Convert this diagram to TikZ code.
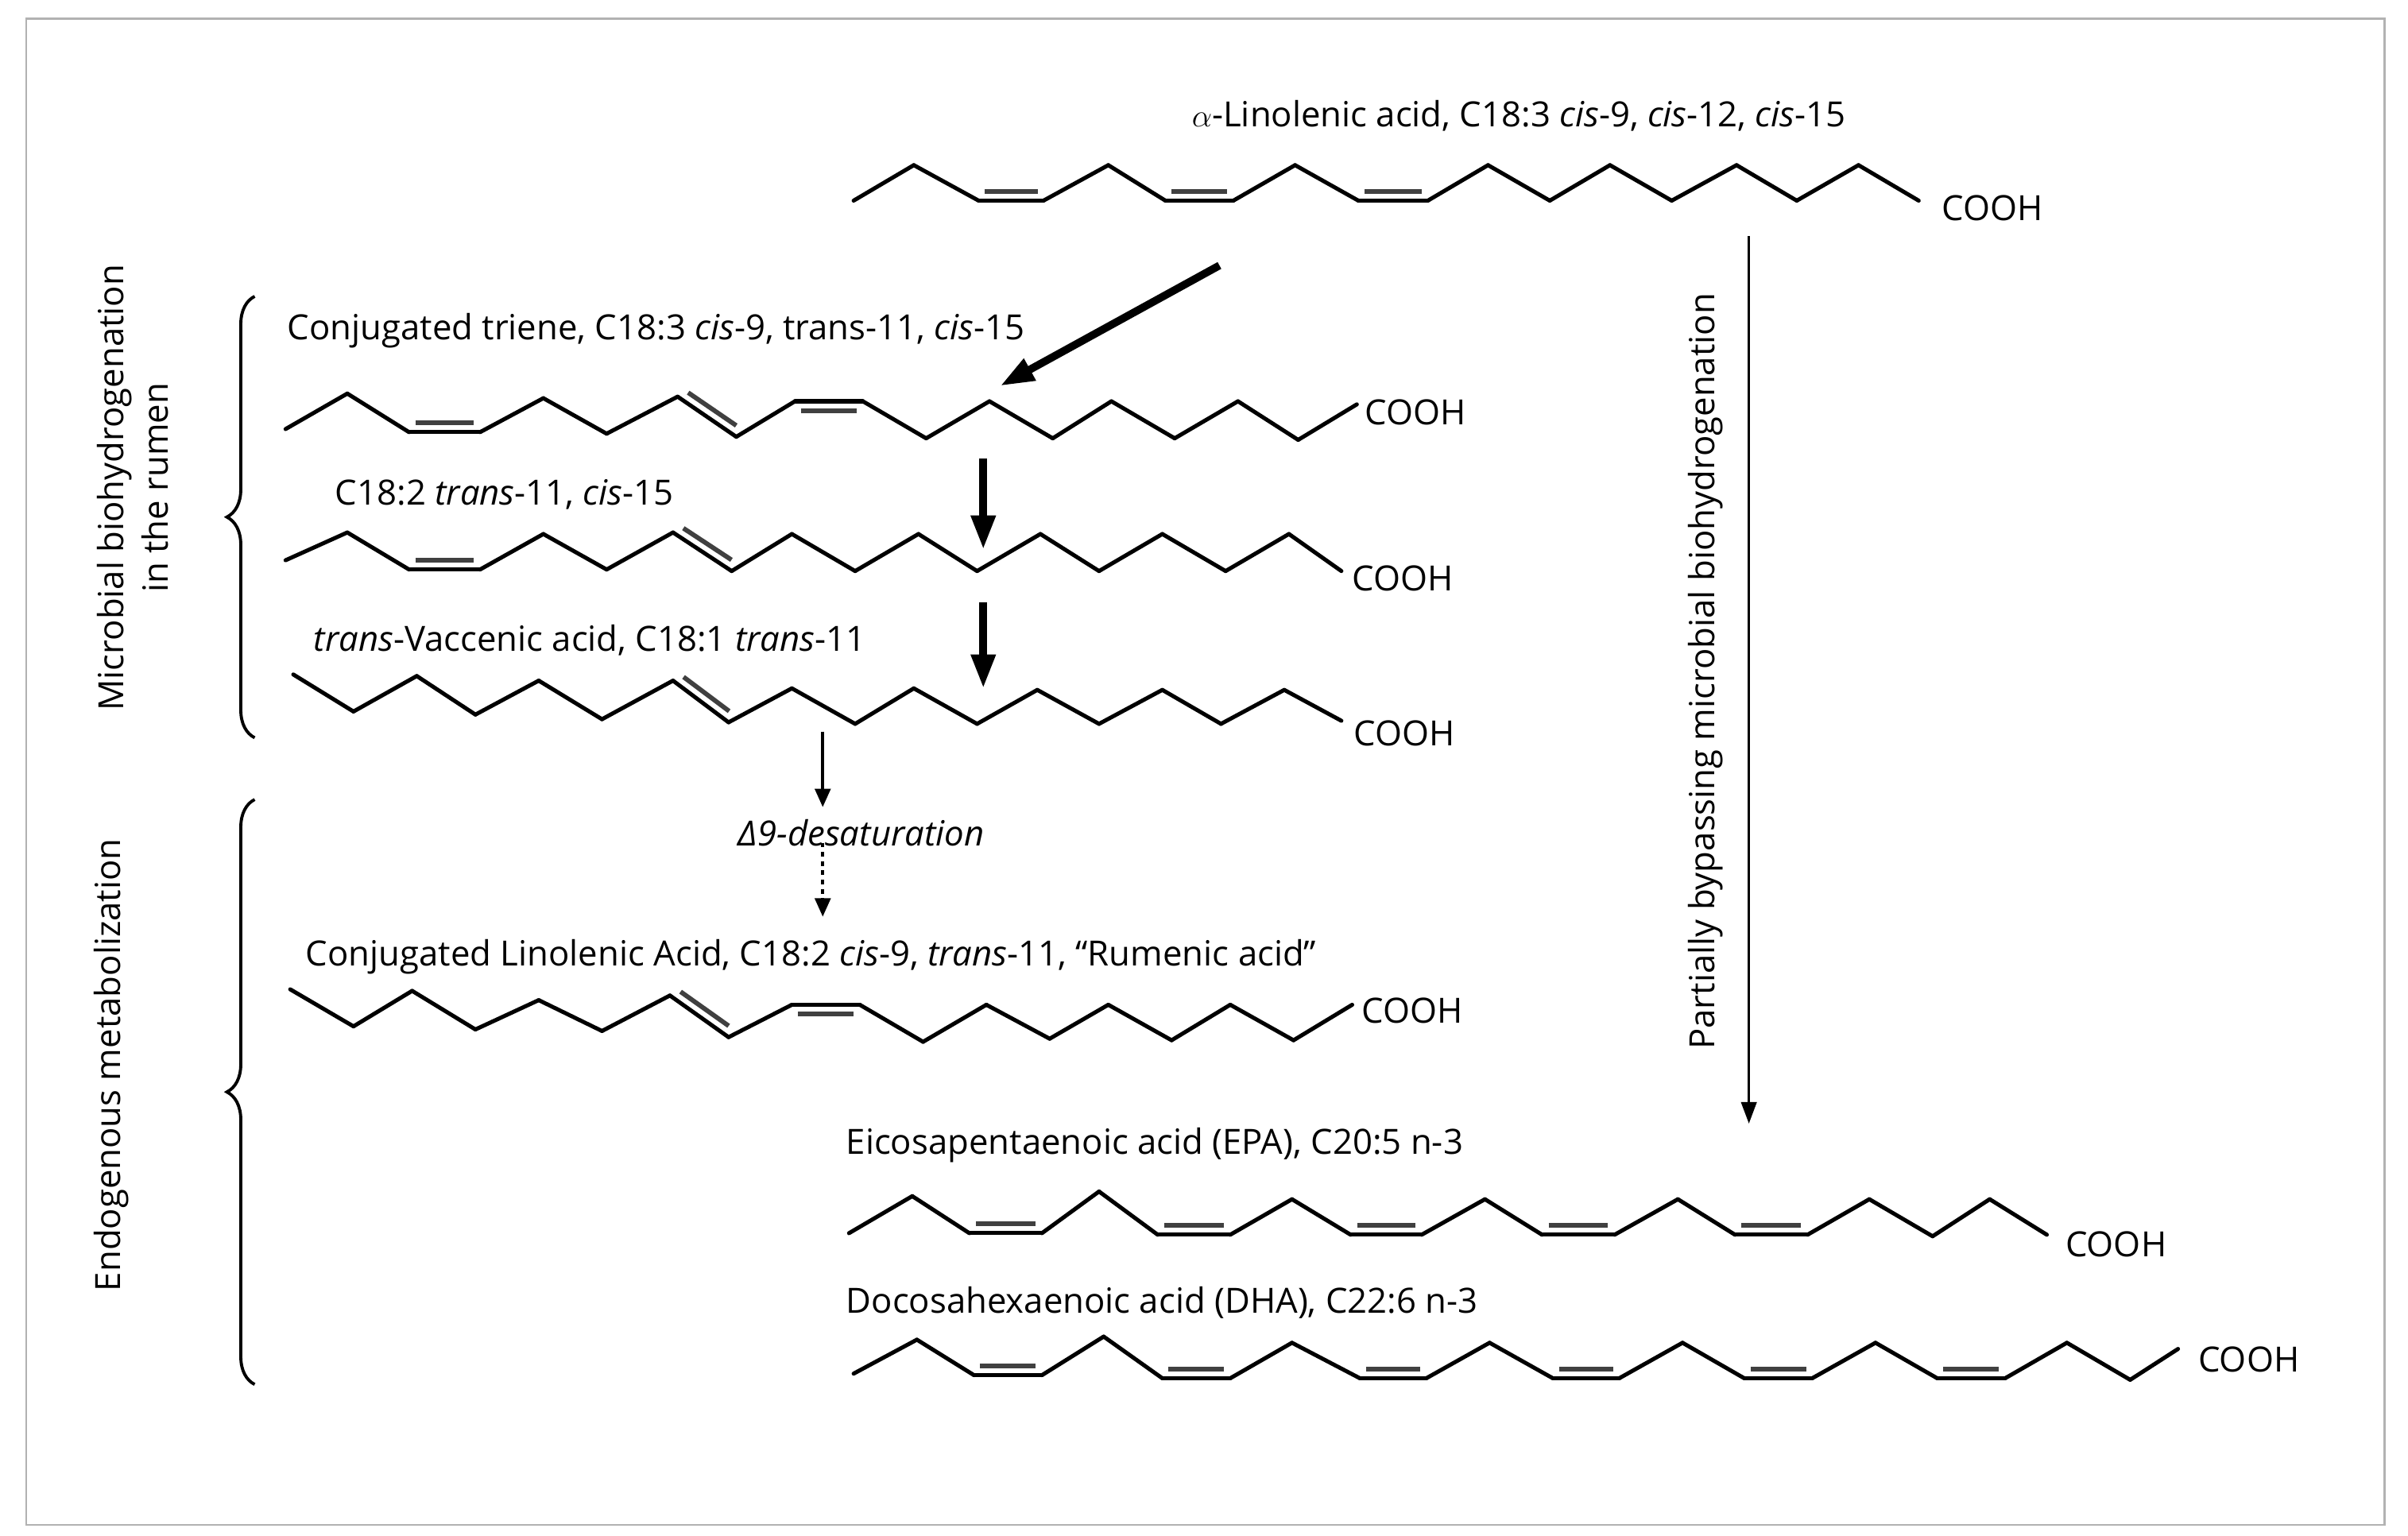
\documentclass[tikz,border=0pt]{standalone}
\usepackage{fontspec}
\setmainfont{Open Sans}
\usetikzlibrary{calc,arrows.meta,decorations.pathreplacing}
\begin{document}
\begin{tikzpicture}[x=1pt,y=-1pt,
  chainline/.style={line width=2.6pt,line cap=round,line join=round},
  dbl/.style={line width=3pt,black!75},
  lbl/.style={anchor=base west,inner sep=0pt,font=\fontsize{22.5}{24}\selectfont},
  big/.style={line width=5pt,-{Triangle[length=22pt,width=15pt]}},
  small/.style={line width=2.2pt,-{Triangle[length=12pt,width=10pt]}},
  brc/.style={decorate,decoration={brace,amplitude=18pt},line width=2pt}]
\useasboundingbox (0,0) rectangle (1560,995);
\draw[gray!60,line width=1.5pt] (17,12) rectangle (1545,988);
\newcommand\mychain[2]{%
  \foreach \px/\py [count=\i] in {#2} {\coordinate (#1\i) at (\px,\py);}
  \foreach \px/\py [count=\i] in {#2} {\ifnum\i>1 \pgfmathtruncatemacro\j{\i-1}\draw[chainline] (#1\j) -- (#1\i);\fi}}
\newcommand\dbond[4]{\draw[dbl] ($(#1#2)!.09!(#1#3)!6pt!#4:(#1#3)$) -- ($(#1#3)!.09!(#1#2)!6pt!-#4:(#1#2)$);}
% chains
\mychain{A}{553/130,592/107,634/130,676/130,718/107,755/130,799/130,839/107,880/130,925/130,964/107,1004/130,1043/107,1083/130,1125/107,1164/130,1204/107,1243/130}
\dbond{A}{3}{4}{90}\dbond{A}{6}{7}{90}\dbond{A}{9}{10}{90}
\mychain{B}{185/278,225/255,265/280,311/280,352/258,393/281,439/257,477/283,515/260,559/260,600/284,641/260,682/284,720/260,761/284,802/260,841/285,879/262}
\dbond{B}{3}{4}{90}\dbond{B}{7}{8}{90}\dbond{B}{9}{10}{-90}
\mychain{C}{185/363,225/345,265/369,311/369,352/346,393/369,436/345,474/370,513/346,554/370,595/346,633/370,674/346,712/370,753/346,794/370,835/346,869/370}
\dbond{C}{3}{4}{90}\dbond{C}{7}{8}{90}
\mychain{D}{190/437,229/461,270/438,308/463,349/441,390/466,436/441,472/468,513/446,554/469,592/446,633/469,672/447,712/469,753/447,791/469,832/447,869/467}
\dbond{D}{7}{8}{90}
\mychain{E}{188/641,229/665,267/642,308/667,349/648,390/668,434/645,472/672,513/651,557/651,598/675,639/651,680/673,718/651,759/674,797/651,838/674,876/651}
\dbond{E}{7}{8}{90}\dbond{E}{9}{10}{-90}
\mychain{F}{550/799,591/775,628/799,675/799,712/772,750/800,797/800,837/777,875/800,921/800,962/777,999/800,1046/800,1087/777,1124/800,1171/800,1211/777,1252/801,1289/777,1326/800}
\dbond{F}{3}{4}{90}\dbond{F}{6}{7}{90}\dbond{F}{9}{10}{90}\dbond{F}{12}{13}{90}\dbond{F}{15}{16}{90}
\mychain{G}{553/890,594/868,631/891,675/891,715/866,753/893,797/893,837/870,881/893,924/893,965/870,1006/893,1049/893,1090/870,1130/893,1174/893,1215/870,1255/893,1299/893,1339/870,1380/894,1411/874}
\dbond{G}{3}{4}{90}\dbond{G}{6}{7}{90}\dbond{G}{9}{10}{90}\dbond{G}{12}{13}{90}\dbond{G}{15}{16}{90}\dbond{G}{18}{19}{90}
% labels
\node[lbl] (tA) at (772,82) {$\alpha$-Linolenic acid, C18:3 \textit{cis}-9, \textit{cis}-12, \textit{cis}-15};
\node[lbl] (tB) at (186,220) {Conjugated triene, C18:3 \textit{cis}-9, trans-11, \textit{cis}-15};
\node[lbl] (tC) at (217,327) {C18:2 \textit{trans}-11, \textit{cis}-15};
\node[lbl] (tD) at (203,422) {\textit{trans}-Vaccenic acid, C18:1 \textit{trans}-11};
\node[lbl] (tDelta) at (478,548) {\textit{Δ9-desaturation}};
\node[lbl] (tE) at (198,626) {Conjugated Linolenic Acid, C18:2 \textit{cis}-9, \textit{trans}-11, “Rumenic acid”};
\node[lbl] (tF) at (548,748) {Eicosapentaenoic acid (EPA), C20:5 n-3};
\node[lbl] (tG) at (548,851) {Docosahexaenoic acid (DHA), C22:6 n-3};
\node[lbl] (cA) at (1258,143) {COOH};
\node[lbl] (cB) at (884,275) {COOH};
\node[lbl] (cC) at (876,383) {COOH};
\node[lbl] (cD) at (877,483) {COOH};
\node[lbl] (cE) at (882,663) {COOH};
\node[lbl] (cF) at (1338,814) {COOH};
\node[lbl] (cG) at (1424,889) {COOH};
\node[rotate=90,font=\fontsize{22.5}{24}\selectfont] (tP) at (1105,435) {Partially bypassing microbial biohydrogenation};
\node[rotate=90,font=\fontsize{22.5}{29}\selectfont,align=center] (tM) at (86,316) {Microbial biohydrogenation\\in the rumen};
\node[rotate=90,font=\fontsize{22.5}{24}\selectfont] (tN) at (72,690) {Endogenous metabolization};
% arrows
\coordinate (a1s) at (790,172); \coordinate (a1e) at (648,250);
\coordinate (a2s) at (637,297); \coordinate (a2e) at (637,356);
\coordinate (a3s) at (637,390); \coordinate (a3e) at (637,446);
\coordinate (a4s) at (533,474); \coordinate (a4e) at (533,523);
\coordinate (a5s) at (533,546); \coordinate (a5e) at (533,594);
\coordinate (a6s) at (1133,153); \coordinate (a6e) at (1133,728);
\draw[big] (a1s) -- (a1e);
\draw[big] (a2s) -- (a2e);
\draw[big] (a3s) -- (a3e);
\draw[small] (a4s) -- (a4e);
\draw[small,dashed] (a5s) -- (a5e);
\draw[line width=1.6pt,-{Triangle[length=14pt,width=10pt]}] (a6s) -- (a6e);
% braces
\coordinate (b1a) at (165,478); \coordinate (b1b) at (165,192);
\coordinate (b2a) at (165,897); \coordinate (b2b) at (165,518);
\draw[brc] (b1a) -- (b1b);
\draw[brc] (b2a) -- (b2b);
\end{tikzpicture}
\end{document}
